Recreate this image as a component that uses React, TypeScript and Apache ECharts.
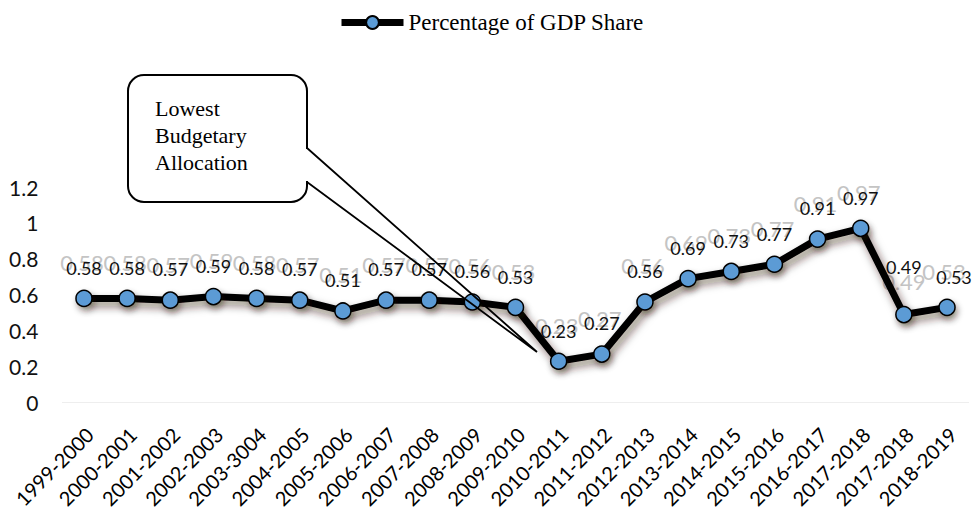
import React, { useEffect, useRef } from "react";
import * as echarts from "echarts";

const categories: string[] = [
  "1999-2000", "2000-2001", "2001-2002", "2002-2003", "2003-3004",
  "2004-2005", "2005-2006", "2006-2007", "2007-2008", "2008-2009",
  "2009-2010", "2010-2011", "2011-2012", "2012-2013", "2013-2014",
  "2014-2015", "2015-2016", "2016-2017", "2017-2018", "2017-2018",
  "2018-2019",
];

const gdpShare: number[] = [
  0.58, 0.58, 0.57, 0.59, 0.58, 0.57, 0.51, 0.57, 0.57, 0.56,
  0.53, 0.23, 0.27, 0.56, 0.69, 0.73, 0.77, 0.91, 0.97, 0.49,
  0.53,
];

const yTicks = { min: 0, max: 1.2, interval: 0.2 };
const seriesName = "Percentage of GDP Share";
const calloutText = "Lowest\nBudgetary\nAllocation";

export default function App() {
  const ref = useRef<HTMLDivElement>(null);

  useEffect(() => {
    document.body.style.margin = "0";
    if (!ref.current) return;
    const chart = echarts.init(ref.current, null, { renderer: "svg" });

    const mainData = gdpShare.map((v, i) => {
      if (i === 19) return { value: v, label: { offset: [0, -17] } };
      if (i === 20) return { value: v, label: { offset: [7, 0] } };
      return v;
    });
    const ghostData = gdpShare.map((v, i) => {
      if (i === 19) return { value: v, label: { offset: [0, 3] } };
      if (i === 20) return { value: v, label: { offset: [-3, 0] } };
      return v;
    });

    chart.setOption({
      animation: false,
      backgroundColor: "#ffffff",
      legend: {
        data: [seriesName],
        left: 333,
        top: 6,
        itemWidth: 62,
        itemHeight: 16,
        itemGap: 4,
        lineStyle: { width: 7, color: "#000" },
        textStyle: {
          fontFamily: "Liberation Serif",
          fontSize: 23,
          color: "#000",
        },
      },
      grid: {
        left: 62.4,
        right: 11.4,
        top: 187,
        bottom: 108,
        containLabel: false,
      },
      xAxis: {
        type: "category",
        data: categories,
        boundaryGap: true,
        axisLine: { show: true, lineStyle: { color: "#eeeeee", width: 1 } },
        axisTick: { show: false },
        splitLine: { show: false },
        axisLabel: {
          interval: 0,
          rotate: 45,
          margin: 34,
          padding: [0, -8, 0, 0],
          fontFamily: "Lato",
          fontSize: 20,
          color: "#000",
        },
      },
      yAxis: {
        type: "value",
        min: yTicks.min,
        max: yTicks.max,
        interval: yTicks.interval,
        axisLine: { show: false },
        axisTick: { show: false },
        splitLine: { show: false },
        axisLabel: {
          margin: 24,
          fontFamily: "Lato",
          fontSize: 21,
          color: "#111",
        },
      },
      series: [
        {
          name: "ghost",
          type: "line",
          data: ghostData,
          z: 1,
          silent: true,
          symbol: "circle",
          symbolSize: 16,
          showSymbol: true,
          itemStyle: { color: "rgba(0,0,0,0)", borderWidth: 0 },
          lineStyle: { width: 0, opacity: 0 },
          label: {
            show: true,
            position: "top",
            distance: 17,
            offset: [-2, 0],
            fontFamily: "Lato",
            fontSize: 22,
            color: "#c4c4c4",
          },
        },
        {
          name: seriesName,
          type: "line",
          data: mainData,
          z: 3,
          symbol: "circle",
          symbolSize: 16,
          showSymbol: true,
          lineStyle: {
            color: "#000",
            width: 7,
            shadowColor: "rgba(40,20,0,0.55)",
            shadowBlur: 9,
            shadowOffsetX: 3,
            shadowOffsetY: 5,
          },
          itemStyle: {
            color: "#5b9bd5",
            borderColor: "#000",
            borderWidth: 1.5,
            shadowColor: "rgba(40,20,0,0.45)",
            shadowBlur: 6,
            shadowOffsetX: 2,
            shadowOffsetY: 4,
          },
          label: {
            show: true,
            position: "top",
            distance: 13,
            fontFamily: "Lato",
            fontSize: 18,
            color: "#111",
          },
        },
      ],
      graphic: [
        {
          type: "rect",
          z: 100,
          shape: { x: 128, y: 75, width: 179, height: 127, r: 16 },
          style: { fill: "#fff", stroke: "#000", lineWidth: 2 },
        },
        {
          type: "rect",
          z: 101,
          shape: { x: 305, y: 149, width: 4, height: 32 },
          style: { fill: "#fff", stroke: null },
        },
        {
          type: "polyline",
          z: 102,
          shape: { points: [[307, 148], [537, 352], [307, 182]] },
          style: { stroke: "#000", lineWidth: 1.8, fill: null },
        },
        {
          type: "text",
          z: 103,
          x: 155,
          y: 95,
          style: {
            text: calloutText,
            font: '22px "Liberation Serif"',
            lineHeight: 27,
            fill: "#000",
            textVerticalAlign: "top",
          },
        },
      ],
    });

    return () => chart.dispose();
  }, []);

  return <div ref={ref} style={{ width: 980, height: 511 }} />;
}
